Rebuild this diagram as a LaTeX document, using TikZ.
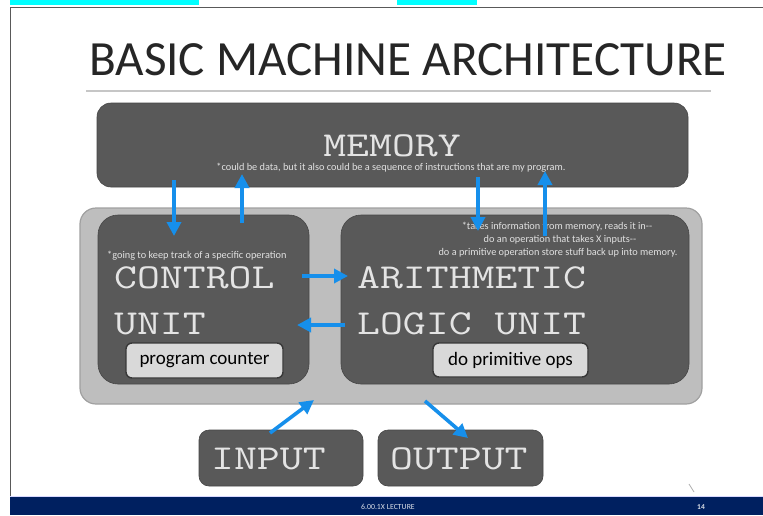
\documentclass[tikz,border=0pt]{standalone}
\usepackage{fontspec}
\setmainfont{Carlito}
\usetikzlibrary{arrows.meta}
\definecolor{darkbox}{RGB}{89,89,89}
\definecolor{darkedge}{RGB}{70,70,70}
\definecolor{bigfill}{RGB}{190,190,190}
\definecolor{bigedge}{RGB}{160,160,160}
\definecolor{lightbox}{RGB}{217,217,217}
\definecolor{arrowblue}{RGB}{22,143,235}
\definecolor{navy}{RGB}{0,32,96}
\definecolor{monotext}{RGB}{228,228,228}
\definecolor{notetext}{RGB}{225,225,225}
\definecolor{hilite}{RGB}{0,255,255}
\newcommand\monotxt[1]{\scalebox{1.27}[1]{#1}}
\tikzset{
  darkbox/.style={draw=darkedge, line width=0.6pt, fill=darkbox, inner sep=0pt},
  bigbox/.style={draw=bigedge, line width=1.2pt, fill=bigfill, rounded corners=16pt, inner sep=0pt},
  lightbox/.style={draw=darkedge!80!black, line width=1.4pt, fill=lightbox, rounded corners=6pt, inner sep=0pt, font=\fontsize{19}{19}\selectfont, text=black},
  monolabel/.style={text=monotext, inner sep=0pt, font=\ttfamily\fontsize{35}{35}\selectfont},
  note/.style={text=notetext, inner sep=0pt, font=\fontsize{10.3}{10.3}\selectfont},
  flow/.style={draw=arrowblue, line width=3.6pt, -{Triangle[length=14pt,width=14pt]}, shorten >=0pt}
}
\begin{document}
\begin{tikzpicture}[x=1pt,y=-1pt]
\useasboundingbox (0,0) rectangle (763,515);
\fill[white] (0,0) rectangle (763,515);
% top highlights and slide frame
\fill[hilite] (10,0) rectangle (199,5);
\fill[hilite] (397,0) rectangle (477,5);
\draw[gray!70!black, line width=0.9pt] (10,7) -- (763,7);
\draw[gray!70!black, line width=0.9pt] (10,7) -- (10,497);
% title
\node[anchor=base west, inner sep=0pt, text=black!85, font=\fontsize{49.2}{49.2}\selectfont] (title) at (89,75) {BASIC MACHINE ARCHITECTURE};
\draw[gray!45, line width=1.2pt] (86,91) -- (711,91);
% memory
\node[darkbox, rounded corners=14pt, minimum width=591pt, minimum height=84pt] (mem) at (392.5,145) {};
\node[monolabel, anchor=base] (memlbl) at (392,156) {\monotxt{MEMORY}};
\node[note, anchor=base] (memnote) at (391,170) {*could be data, but it also could be a sequence of instructions that are my program.};
% big box
\node[bigbox, minimum width=622pt, minimum height=196pt] (cpu) at (391,306) {};
% control unit
\node[darkbox, rounded corners=20pt, minimum width=211pt, minimum height=169pt] (cu) at (203.5,299.5) {};
\node[note, anchor=base west] (cunote) at (107,258) {*going to keep track of a specific operation};
\node[monolabel, anchor=base west] (cu1) at (114,288) {\monotxt{CONTROL}};
\node[monolabel, anchor=base west] (cu2) at (114,334) {\monotxt{UNIT}};
\node[lightbox, minimum width=157pt, minimum height=35pt] (pc) at (204.5,360.5) {program counter};
% ALU
\node[darkbox, rounded corners=20pt, minimum width=348pt, minimum height=169pt] (alu) at (515,299.5) {};
\node[note, anchor=base] (alun1) at (557,229) {*takes information from memory, reads it in{-}{-}};
\node[note, anchor=base] (alun2) at (560,242) {do an operation that takes X inputs{-}{-}};
\node[note, anchor=base] (alun3) at (558,255) {do a primitive operation store stuff back up into memory.};
\node[monolabel, anchor=base west] (alu1) at (357,288) {\monotxt{ARITHMETIC}};
\node[monolabel, anchor=base west] (alu2) at (357,334) {\monotxt{LOGIC UNIT}};
\node[lightbox, minimum width=155pt, minimum height=34pt] (dpo) at (510.5,360) {do primitive ops};
% input / output
\node[darkbox, rounded corners=10pt, minimum width=164pt, minimum height=56pt] (in) at (281,458) {};
\node[monolabel, anchor=base west] (inlbl) at (211,469) {\monotxt{INPUT}};
\node[darkbox, rounded corners=10pt, minimum width=165pt, minimum height=56pt] (out) at (460.5,458) {};
\node[monolabel, anchor=base west] (outlbl) at (390,469) {\monotxt{OUTPUT}};
% arrow end points
\coordinate (m1) at (174,180);  \coordinate (c1) at (174,236);
\coordinate (c2) at (242,223);  \coordinate (m2) at (242,174);
\coordinate (m3) at (478,177);  \coordinate (a3) at (478,231);
\coordinate (a4) at (545,236);  \coordinate (m4) at (545,171);
\coordinate (c5) at (302,276);  \coordinate (a5) at (348,276);
\coordinate (a6) at (345,325);  \coordinate (c6) at (297,325);
\coordinate (i7) at (270,433);  \coordinate (b7) at (314,400);
\coordinate (b8) at (425,401);  \coordinate (o8) at (468,438);
\draw[flow] (m1) -- (c1);
\draw[flow] (c2) -- (m2);
\draw[flow] (m3) -- (a3);
\draw[flow] (a4) -- (m4);
\draw[flow] (c5) -- (a5);
\draw[flow] (a6) -- (c6);
\draw[flow] (i7) -- (b7);
\draw[flow] (b8) -- (o8);
% footer
\draw[gray!60, line width=0.8pt] (689,484) -- (694,492);
\fill[navy] (10,497) rectangle (763,515);
\draw[blue!15, line width=0.8pt] (10,496.5) -- (763,496.5);
\node[inner sep=0pt, text=white!85!navy, font=\fontsize{7.8}{7.8}\selectfont] (lect) at (388,507) {6.00.1X LECTURE};
\node[inner sep=0pt, text=white!85!navy, font=\fontsize{7.5}{7.5}\selectfont\bfseries] (pg) at (701,507) {14};
\end{tikzpicture}
\end{document}
